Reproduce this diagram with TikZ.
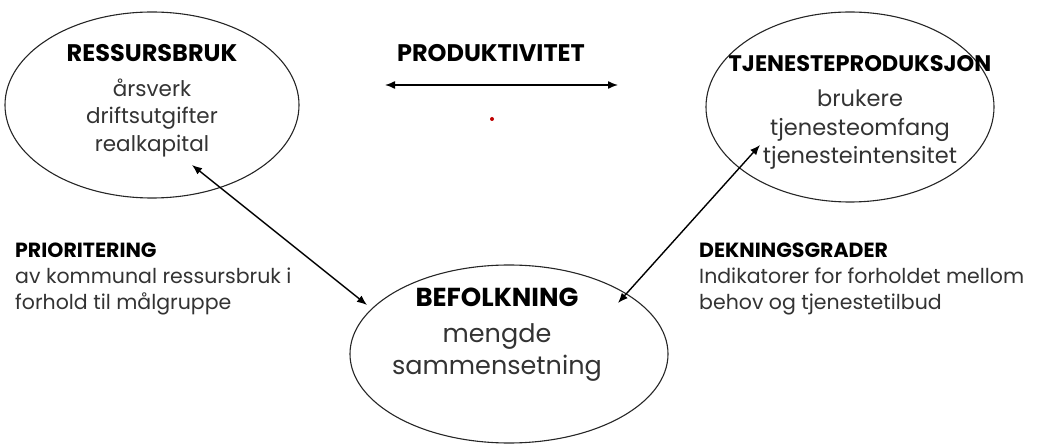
\documentclass[tikz,border=0pt]{standalone}
\usepackage{fontspec}
\setmainfont{Poppins}
\usetikzlibrary{shapes.geometric,arrows.meta}
\begin{document}
\begin{tikzpicture}[x=1pt,y=-1pt,
  oval/.style={draw=black!85,line width=1.1pt,ellipse,inner sep=0pt},
  head/.style={font=\fontsize{24}{28}\selectfont\bfseries,inner sep=0pt,anchor=base},
  body/.style={font=\fontsize{21.5}{28}\selectfont,text=black!80,inner sep=0pt,anchor=base},
  side/.style={font=\fontsize{20.5}{24}\selectfont,text=black!80,inner sep=0pt,anchor=base west},
  sidehead/.style={font=\fontsize{20.5}{24}\selectfont\bfseries,inner sep=0pt,anchor=base west},
  conn/.style={line width=1.4pt,{Latex[length=10pt,width=8pt]}-{Latex[length=10pt,width=8pt]}}]
\useasboundingbox (0,0) rectangle (1039,446);
% ellipses
\node[oval,minimum width=294pt,minimum height=186pt] (res) at (152,105) {};
\node[oval,minimum width=288pt,minimum height=190pt] (tje) at (850,107) {};
\node[oval,minimum width=318pt,minimum height=178pt] (bef) at (509,354) {};
% texts in left ellipse
\node[head] (resH) at (152,62) {RESSURSBRUK};
\node[body] (res1) at (152,97) {årsverk};
\node[body] (res2) at (152,124) {driftsutgifter};
\node[body] (res3) at (152,152) {realkapital};
% right ellipse
\node[head,font=\fontsize{22.5}{26}\selectfont\bfseries] (tjeH) at (860,72) {TJENESTEPRODUKSJON};
\node[body,font=\fontsize{22.5}{28}\selectfont] (tje1) at (860,107) {brukere};
\node[body,font=\fontsize{22.5}{28}\selectfont] (tje2) at (860,136) {tjenesteomfang};
\node[body,font=\fontsize{22.5}{28}\selectfont] (tje3) at (860,164) {tjenesteintensitet};
% bottom ellipse
\node[head,font=\fontsize{26}{30}\selectfont\bfseries] (befH) at (497,307) {BEFOLKNING};
\node[body,font=\fontsize{25.5}{30}\selectfont] (bef1) at (497,342) {mengde};
\node[body,font=\fontsize{25.5}{30}\selectfont] (bef2) at (497,374) {sammensetning};
% productivity
\node[head] (prod) at (491,62) {PRODUKTIVITET};
\coordinate (pL) at (385,85);
\coordinate (pR) at (618,85);
\draw[conn] (pL) -- (pR);
\fill[red!75!black] (492,119) circle (2pt);
% side labels
\node[sidehead] (priH) at (15,258) {PRIORITERING};
\node[side] (pri1) at (15,284) {av kommunal ressursbruk i};
\node[side] (pri2) at (15,310) {forhold til målgruppe};
\node[sidehead] (dekH) at (699,258) {DEKNINGSGRADER};
\node[side] (dek1) at (699,284) {Indikatorer for forholdet mellom};
\node[side] (dek2) at (699,310) {behov og tjenestetilbud};
% connectors
\coordinate (a1) at (192,165);
\coordinate (a2) at (367,305);
\coordinate (b1) at (760,145);
\coordinate (b2) at (618,303);
\draw[conn] (a1) -- (a2);
\draw[conn] (b1) -- (b2);
\end{tikzpicture}
\end{document}
